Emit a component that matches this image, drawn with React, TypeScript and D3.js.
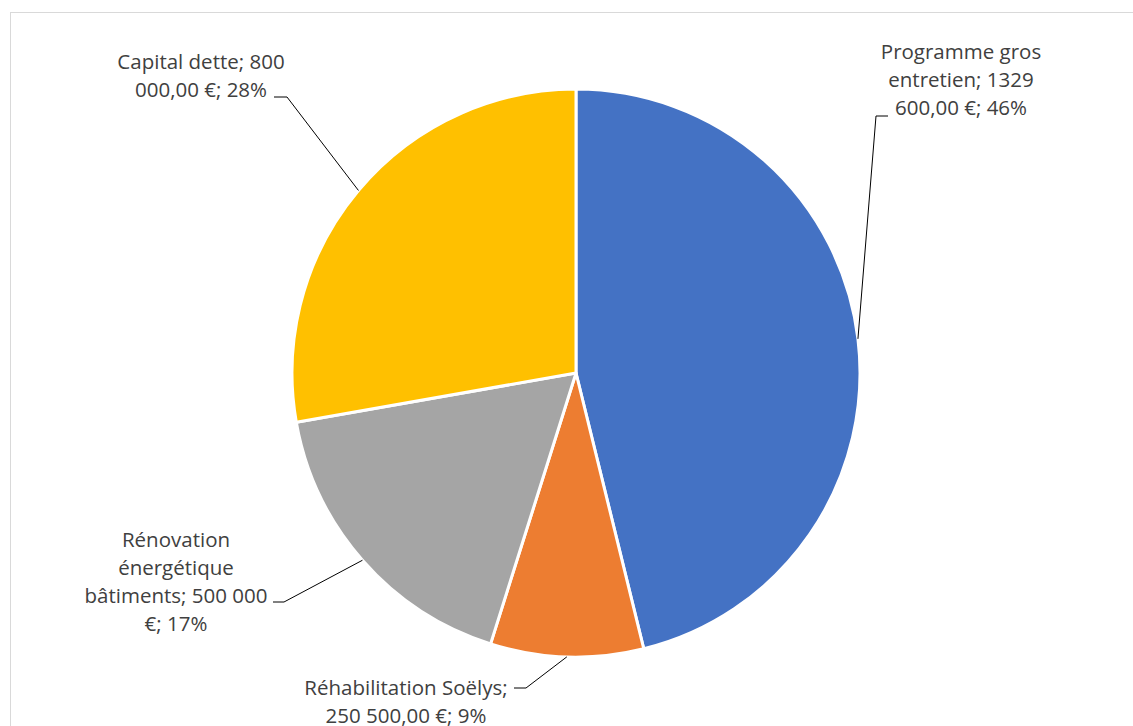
import React from "react";
import * as d3 from "d3";

const categories = [
  "Programme gros entretien",
  "Réhabilitation Soëlys",
  "Rénovation énergétique bâtiments",
  "Capital dette",
];
const values = [1329600, 250500, 500000, 800000];
const labelLines = [
  ["Programme gros", "entretien; 1329", "600,00 €; 46%"],
  ["Réhabilitation Soëlys;", "250 500,00 €; 9%"],
  ["Rénovation", "énergétique", "bâtiments; 500 000", "€; 17%"],
  ["Capital dette; 800", "000,00 €; 28%"],
];
const colors = ["#4472C4", "#ED7D31", "#A5A5A5", "#FFC000"];

// layout of labels: text center x, first line center y, leader elbow point, elbow side
const labelLayout = [
  { cx: 961, y0: 51, ex: 876, ey: 116, hx: 888 },
  { cx: 406, y0: 687, ex: 526, ey: 688, hx: 514 },
  { cx: 176, y0: 539, ex: 284, ey: 602, hx: 273 },
  { cx: 201, y0: 61, ex: 287, ey: 97, hx: 274 },
];

const W = 1133;
const H = 726;
const CX = 576;
const CY = 373;
const R = 284;
const LH = 28;

export default function App() {
  const pie = d3.pie<number>().sort(null).value((d) => d);
  const arcs = pie(values);
  const arc = d3.arc<d3.PieArcDatum<number>>().innerRadius(0).outerRadius(R);
  const edge = d3.arc<d3.PieArcDatum<number>>().innerRadius(R).outerRadius(R);

  return (
    <svg
      width={W}
      height={H}
      style={{ position: "absolute", left: 0, top: 0, background: "#fff" }}
      fontFamily="'Open Sans', sans-serif"
    >
      <rect x={10.5} y={12.5} width={W + 20} height={H + 20} fill="#fff" stroke="#d9d9d9" strokeWidth={1} />
      <g transform={`translate(${CX},${CY})`}>
        {arcs.map((a, i) => (
          <path key={categories[i]} d={arc(a) || ""} fill={colors[i]} stroke="#fff" strokeWidth={3} strokeLinejoin="round" />
        ))}
      </g>
      {arcs.map((a, i) => {
        const [px, py] = edge.centroid(a);
        const L = labelLayout[i];
        return (
          <g key={"l" + i}>
            <polyline
              points={`${CX + px},${CY + py} ${L.ex},${L.ey} ${L.hx},${L.ey}`}
              fill="none"
              stroke="#000"
              strokeWidth={1}
            />
            {labelLines[i].map((t, j) => (
              <text
                key={j}
                x={L.cx}
                y={L.y0 + j * LH}
                textAnchor="middle"
                dominantBaseline="central"
                fontSize={20.5}
                fill="#404040"
              >
                {t}
              </text>
            ))}
          </g>
        );
      })}
    </svg>
  );
}
